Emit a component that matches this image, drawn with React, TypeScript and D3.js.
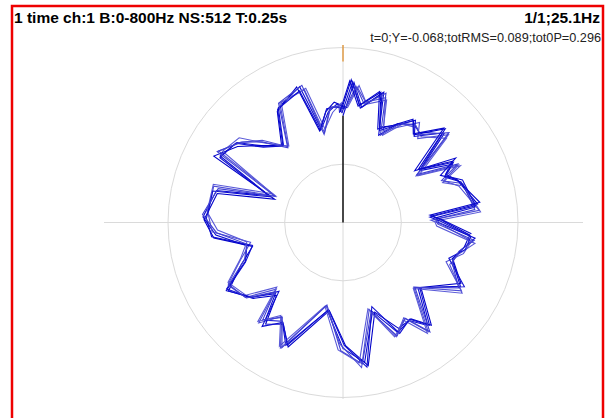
import React from "react";
import * as d3 from "d3";

// Title / annotation texts
const titleLeft = "1 time ch:1 B:0-800Hz NS:512 T:0.25s";
const titleRight = "1/1;25.1Hz";
const infoLine = "t=0;Y=-0.068;totRMS=0.089;tot0P=0.296";

// radial axis (signal value) and grid circles
const radialDomain = [-0.8, 0.4];
const gridValues = [-0.4, 0.4];

// base profile of one revolution: angle (deg, clockwise from top) and value
const profileAngles = [0, 4.5, 9.2, 17.4, 22.2, 29, 35.9, 40.2, 48.7, 56, 62, 66, 71, 83.4, 87, 90, 96.8, 103, 109.3, 118.5, 131, 140.5, 146, 153.5, 161.7, 171.2, 180, 190, 205, 211.6, 218.5, 223.5, 231, 240.3, 248.4, 256.4, 264.4, 272.3, 284.2, 290, 298.4, 307, 314, 322.5, 330.6, 342.3, 346.9, 352.4, 357];
const profileValues = [-0.032, 0.153, 0.016, 0.116, -0.129, -0.032, 0.042, -0.014, 0.131, -0.18, 0.07, -0.046, 0.05, 0.126, -0.183, -0.135, 0.098, 0.037, -0.022, 0.128, -0.127, 0.137, -0.005, 0.046, -0.168, 0.189, 0.057, -0.205, 0.142, -0.015, 0.081, -0.143, 0.022, 0.107, -0.063, -0.144, 0.082, 0.147, 0.105, -0.289, 0.174, 0.103, -0.032, -0.147, 0.109, 0.168, -0.163, -0.022, 0.009];

// per-revolution deviations from the profile (thousandths) and angular slips (deg)
const rev0 = [-36, 10, -16, 20, -24, 8, -12, 24, -8, 16, -20, 12, 6, -16, 24, -10, 14, -6, 18, -12, 8, -22, 16, -4, 12, -18, 6, 20, -14, 10, -24, 16, -8, 12, -18, 22, -6, 14, -10, 28, -16, 8, -12, 18, -6, 10, 20, -14, 4];
const rev1 = [16, -20, 24, -12, 18, -8, 22, -16, 10, -24, 14, -6, -18, 12, -14, 20, -8, 16, -22, 10, -16, 12, -20, 18, -10, 14, -24, -12, 20, -16, 18, -10, 22, -14, 12, -8, 18, -20, 16, -14, 10, -18, 22, -12, 16, -20, -10, 18, -8];
const rev2 = [-10, 28, -6, 14, 30, -18, 8, -12, 20, 12, -10, 24, -14, 6, -8, 16, -24, 10, 12, -18, 22, -8, 14, -26, 20, 8, -12, 16, -10, 24, -6, 20, -16, 8, 24, -14, 10, 6, -20, -16, 22, -12, 8, 20, -24, 14, 12, -8, 18];
const rev3 = [20, -8, 12, -24, -14, 22, -18, 10, -16, -10, 24, -18, 16, 20, 12, -22, 18, -14, 8, 22, -12, 18, -6, 14, -16, -20, 18, -8, 12, -18, 14, -22, 10, -18, 8, 16, -20, -12, 22, 10, -14, 16, -18, -10, 18, -12, 14, -20, 12];
const rev4 = [-18, 14, -22, 10, 8, -14, 18, -20, -12, 22, -8, 16, 20, -10, -20, 8, -16, 22, -12, 14, 18, -16, 10, 8, -22, 16, -14, 10, -18, 14, 22, -12, -18, 20, -14, -16, 24, -10, 14, 18, -20, 12, -16, 14, -12, -18, 16, 10, -16];
const rev5 = [12, -16, 8, 18, -20, 16, -10, 14, 22, -16, 12, -20, 14, -18, 18, -14, 10, -18, 20, -16, -10, 20, -12, 16, 14, -10, 22, -18, 14, -12, -16, 10, 18, -10, -16, 20, -12, 18, -18, -12, 16, -10, 14, -16, 20, 14, -18, 12, -10];
const rev6 = [-14, 18, -12, 16, 12, -18, 14, -10, 16, -14, 20, -12, -16, 22, -18, 12, -14];
const revolutions = [rev0, rev1, rev2, rev3, rev4, rev5, rev6];
const revSlips = [0, 1.5, -1.2, 2.2, -0.6, 1.0, -1.8];
const revColors = ["#0c0cd0", "#5050d6", "#0000c8", "#5a5ad8", "#1010d0", "#4040d2", "#0808cc"];

export default function App() {
  const W = 609;
  const H = 418;
  const cx = 343;
  const cy = 222.5;
  const R = 175;
  const r = d3.scaleLinear().domain(radialDomain).range([0, R]);
  const rad = (deg: number) => (deg * Math.PI) / 180;

  type P = { a: number; v: number };
  const revPoints: P[][] = revolutions.map((dev, k) =>
    dev.map((d, i) => ({ a: rad(profileAngles[i] + revSlips[k]), v: profileValues[i] + d / 1000 }))
  );
  // connect each revolution to the start of the next
  const revPaths = revPoints.map((pts, k) => (k + 1 < revPoints.length ? [...pts, revPoints[k + 1][0]] : pts));

  const line = d3
    .lineRadial<P>()
    .angle((d) => d.a)
    .radius((d) => r(d.v));

  const first = revPoints[0][0];
  const fx = Math.sin(first.a) * r(first.v);
  const fy = -Math.cos(first.a) * r(first.v);

  const grid = "#dadada";

  return (
    <svg
      width={W}
      height={H}
      style={{ position: "absolute", left: 0, top: 0, background: "#fff" }}
      fontFamily="'Liberation Sans', Arial, sans-serif"
    >
      <rect x={0} y={0} width={W} height={H} fill="#fff" />
      <rect x={12} y={6} width={591} height={430} fill="none" stroke="#ee0000" strokeWidth={2.5} />
      <text x={14} y={23} fontSize={15.5} fontWeight="bold" fill="#000">
        {titleLeft}
      </text>
      <text x={600} y={23} fontSize={15.5} fontWeight="bold" fill="#000" textAnchor="end">
        {titleRight}
      </text>
      <text x={601} y={42} fontSize={12.7} fill="#222" textAnchor="end">
        {infoLine}
      </text>
      <g transform={`translate(${cx},${cy})`}>
        <line x1={-239} x2={240} y1={0} y2={0} stroke={grid} strokeWidth={1} />
        <line x1={0} x2={0} y1={-R - 2.5} y2={R + 1.5} stroke={grid} strokeWidth={1} />
        {gridValues.map((g) => (
          <circle key={g} r={r(g)} fill="none" stroke={grid} strokeWidth={1} />
        ))}
        <line x1={0} x2={0} y1={-R - 2.5} y2={-R + 14} stroke="#e08a20" strokeWidth={1.2} />
        {revPaths.map((pts, k) => (
          <path key={k} d={line(pts) || ""} fill="none" stroke={revColors[k]} strokeWidth={1.1} strokeLinejoin="miter" />
        ))}
        <line x1={0} y1={0} x2={fx} y2={fy} stroke="#000" strokeWidth={1.4} />
      </g>
    </svg>
  );
}
